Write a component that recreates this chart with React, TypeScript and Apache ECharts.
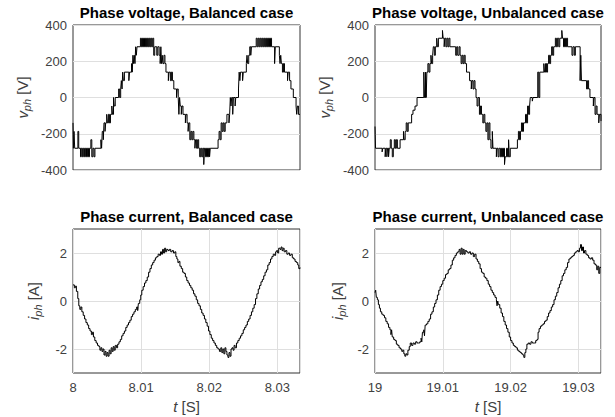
import React, { useEffect, useRef } from 'react';
import * as echarts from 'echarts';

const FONT = '"Liberation Sans", Arial, Helvetica, sans-serif';
const LABEL_COLOR = '#404040';
const GRID_COLOR = '#dfdfdf';
const BOX_COLOR = '#333333';

const titles = [
  'Phase voltage, Balanced case',
  'Phase voltage, Unbalanced case',
  'Phase current, Balanced case',
  'Phase current, Unbalanced case',
];
const tStarts = [8, 19, 8, 19];
const tSpan = 0.03333;
const tInterval = 0.01;
const vMin = -400;
const vMax = 400;
const vInterval = 200;
const iMin = -3;
const iMax = 3;
const iTicks = [-2, 0, 2];

// [time offset in ms, phase voltage in V]
const vBal: [number, number][] = [
  [0, -140], [0.06, -280], [0.15, -187], [0.25, -280], [0.72, -187], [0.84, -280],
  [1.1, -327], [1.22, -280], [1.38, -327], [1.52, -280], [1.68, -327], [1.82, -280], [1.98, -327], [2.12, -280], [2.28, -327], [2.42, -280], [2.62, -233], [2.76, -327], [2.92, -280], [3.08, -327], [3.22, -280],
  [4.1, -233], [4.2, -280], [4.3, -187], [4.45, -233], [4.55, -140], [4.7, -187], [4.8, -140], [4.95, -93], [5.05, -140], [5.2, -93], [5.35, -140], [5.5, -93], [5.7, -47], [5.8, -93], [5.95, 0], [6.05, -47], [6.2, 0], [6.7, 47], [6.85, 0], [7.0, 47], [7.1, 93], [7.2, 47], [7.3, 140], [7.4, 93], [7.55, 140], [8.2, 93], [8.3, 140], [8.6, 187], [8.7, 140], [8.8, 233], [8.9, 187], [9.0, 233], [9.1, 187], [9.2, 280], [9.3, 233], [9.4, 280],
  [9.9, 327], [10.05, 280], [10.2, 327], [10.35, 280], [10.5, 327], [10.65, 280], [10.8, 327], [10.95, 280], [11.1, 327], [11.25, 280], [11.4, 327], [11.55, 280], [11.7, 327], [11.85, 233], [12.0, 280], [12.3, 233], [12.45, 280], [12.65, 233], [12.8, 187], [12.9, 280], [13.0, 187], [13.1, 233], [13.2, 187], [13.35, 233], [13.5, 187], [13.65, 140], [14.0, 93], [14.1, 140], [14.3, 93], [14.45, 140], [14.6, 93], [14.8, 47], [15.2, 0], [15.3, 47], [15.45, 0], [15.55, -93], [15.65, 0], [15.75, -47], [15.9, -93], [16.0, -47], [16.15, -93], [16.5, -140], [16.6, -93], [16.75, -140], [16.9, -187], [17.0, -140], [17.15, -233], [17.3, -187], [17.45, -233], [17.6, -187], [17.75, -233], [17.9, -280], [18.0, -233], [18.15, -280], [18.3, -233],
  [18.45, -280], [18.6, -327], [18.75, -280], [18.9, -327], [19.05, -280], [19.2, -370], [19.3, -280], [19.45, -327], [19.6, -280], [19.75, -327], [19.9, -280], [20.05, -327], [20.15, -280],
  [21.3, -233], [21.45, -187], [21.6, -233], [21.75, -140], [21.9, -187], [22.05, -140], [22.2, -187], [22.35, -140], [22.6, -93], [22.9, -140], [23.0, -93], [23.1, 0], [23.2, -47], [23.3, 0], [23.45, -93], [23.55, 0], [23.8, -47], [23.9, 0], [24.3, 47], [24.4, 140], [24.5, 93], [24.6, 140], [24.9, 93], [25.0, 140], [25.45, 187], [25.55, 233], [25.65, 187], [25.8, 233], [25.95, 280], [26.1, 233], [26.2, 280],
  [26.9, 327], [27.05, 280], [27.2, 327], [27.35, 280], [27.5, 327], [27.65, 280], [27.8, 327], [27.95, 280], [28.1, 327], [28.25, 280], [28.4, 327], [28.55, 280], [28.7, 327], [28.85, 280], [29.0, 327], [29.15, 280], [29.6, 187], [29.7, 280], [30.3, 233], [30.4, 187], [30.5, 233], [30.6, 187], [30.75, 140], [30.9, 187], [31.05, 140], [31.5, 93], [31.6, 140], [31.8, 93], [32.0, 47], [32.35, 0], [32.75, -47], [32.85, -93], [32.95, -47], [33.1, -93], [33.33, -93],
];

const vUnb: [number, number][] = [
  [0, -160], [0.08, -280], [1.05, -300], [1.15, -280], [1.5, -327], [1.6, -280], [1.75, -327], [1.85, -280], [2.0, -327], [2.1, -280], [2.25, -233], [2.4, -280], [2.55, -327], [2.7, -280], [2.85, -233], [3.0, -280], [3.15, -233], [3.3, -280], [3.7, -233], [4.2, -187], [4.3, -233], [4.45, -187], [4.6, -140], [4.75, -187], [4.9, -140], [5.4, -93], [5.6, -70], [5.9, -47], [6.2, 0],
  [7.2, 140], [7.3, 0], [7.45, 140], [7.55, 0], [7.65, 140], [7.8, 187], [7.95, 140], [8.1, 187], [8.25, 233], [8.35, 187], [8.5, 233], [8.6, 280], [8.75, 233], [8.9, 280], [9.1, 327], [9.2, 280], [9.35, 327], [9.95, 370], [10.05, 327], [10.2, 280], [10.3, 327], [10.45, 280], [10.6, 327], [10.75, 280], [10.9, 327], [11.05, 280],
  [11.9, 233], [12.05, 280], [12.2, 233], [12.4, 280], [12.55, 233], [12.7, 187], [12.85, 233], [13.0, 187], [13.15, 233], [13.3, 187], [13.5, 140], [13.95, 93], [14.2, 47], [14.3, 93], [14.45, 47], [14.6, 93], [14.75, 47], [14.9, 0], [15.05, -47], [15.2, 0], [15.4, -93], [15.55, -47], [15.7, -93], [15.9, -140], [16.05, -93], [16.2, -140], [16.35, -187], [16.5, -140], [16.65, -233], [16.8, -140], [16.95, -233], [17.1, -280], [17.3, -187], [17.4, -280],
  [17.9, -327], [18.0, -280], [18.15, -327], [18.3, -280], [18.5, -327], [18.65, -280], [18.8, -327], [18.95, -280], [19.1, -370], [19.2, -327], [19.4, -280], [19.55, -327], [19.7, -233], [19.8, -327], [19.95, -280],
  [21.0, -233], [21.15, -187], [21.3, -233], [21.45, -187], [21.6, -140], [21.75, -187], [21.9, -140], [22.2, -93], [22.35, -140], [22.5, -47], [22.65, -93], [22.8, -47], [22.9, 0], [23.2, -20], [23.3, 0], [24.0, 140], [24.15, 0], [24.3, 140], [24.9, 187], [25.0, 140], [25.15, 187], [25.3, 140], [25.45, 187], [25.6, 233], [25.75, 187], [25.9, 233], [26.05, 280], [26.2, 233], [26.35, 280],
  [26.6, 327], [26.75, 280], [26.9, 327], [27.1, 280], [27.25, 327], [27.55, 370], [27.65, 327], [27.8, 280], [27.95, 327], [28.1, 280], [28.25, 327], [28.4, 280], [29.05, 233], [29.2, 280], [29.4, 233], [29.55, 280], [30.25, 93], [30.35, 233], [30.45, 93], [31.2, 47], [31.35, 93], [31.5, 47], [31.7, 0], [32.2, -47], [32.3, 0], [32.45, -93], [32.6, -47], [32.75, -93], [33.0, -140], [33.1, -93], [33.33, -130],
];

// [time offset in ms, phase current in A]
const iBal: [number, number][] = [
  [0, 0.67], [0.2, 0.55], [0.35, 0.62], [0.5, 0.4], [0.7, 0.1], [0.85, -0.2], [1.0, -0.35], [1.15, -0.25], [1.3, -0.45], [1.5, -0.6], [1.7, -0.75], [1.9, -0.9], [2.1, -1.0], [2.3, -1.15], [2.5, -1.25], [2.7, -1.4], [2.85, -1.3], [3.0, -1.5], [3.2, -1.65], [3.4, -1.75], [3.6, -1.85], [3.8, -1.9], [3.95, -2.05], [4.1, -1.95], [4.25, -2.1], [4.4, -2.0], [4.55, -2.25], [4.7, -2.1], [4.85, -2.3], [5.0, -2.15], [5.15, -2.3], [5.3, -2.05], [5.45, -2.2], [5.6, -1.95], [5.75, -2.1], [5.9, -1.9], [6.05, -2.05], [6.2, -1.85], [6.4, -1.95], [6.55, -1.8], [6.75, -1.7], [6.95, -1.6], [7.15, -1.45], [7.35, -1.35], [7.55, -1.25], [7.75, -1.1], [7.95, -1.0], [8.15, -0.9], [8.35, -0.8], [8.55, -0.65], [8.75, -0.55], [8.95, -0.45], [9.15, -0.35], [9.35, -0.25], [9.5, -0.4], [9.6, -0.1], [9.8, 0.05], [9.95, 0.25], [10.1, 0.45], [10.3, 0.6], [10.5, 0.75], [10.7, 0.85], [10.9, 1.0], [11.1, 1.2], [11.3, 1.35], [11.5, 1.5], [11.7, 1.6], [11.9, 1.7], [12.1, 1.8], [12.3, 1.85], [12.5, 1.95], [12.7, 1.9], [12.85, 2.05], [13.0, 1.95], [13.15, 2.15], [13.3, 2.0], [13.45, 2.2], [13.6, 2.05], [13.75, 2.15], [13.95, 2.1], [14.15, 2.15], [14.35, 2.05], [14.55, 2.1], [14.75, 2.0], [14.95, 2.05], [15.1, 1.85], [15.25, 1.75], [15.4, 1.6], [15.55, 1.65], [15.7, 1.45], [15.9, 1.35], [16.1, 1.2], [16.3, 1.15], [16.5, 1.0], [16.7, 0.85], [16.9, 0.75], [17.1, 0.65], [17.3, 0.55], [17.5, 0.45], [17.7, 0.3], [17.9, 0.2], [18.1, 0.05], [18.3, -0.1], [18.5, -0.2], [18.7, -0.35], [18.9, -0.5], [19.1, -0.6], [19.3, -0.75], [19.5, -0.9], [19.7, -1.05], [19.9, -1.25], [20.1, -1.4], [20.3, -1.55], [20.5, -1.65], [20.7, -1.75], [20.9, -1.85], [21.1, -1.95], [21.3, -2.0], [21.5, -2.1], [21.7, -1.95], [21.85, -2.15], [22.0, -2.0], [22.15, -2.2], [22.3, -1.95], [22.45, -2.1], [22.6, -2.25], [22.75, -2.35], [22.9, -2.15], [23.05, -2.3], [23.2, -2.0], [23.35, -1.95], [23.5, -2.05], [23.65, -1.85], [23.8, -1.95], [24.0, -1.75], [24.2, -1.65], [24.4, -1.55], [24.6, -1.45], [24.8, -1.35], [25.0, -1.2], [25.2, -1.1], [25.4, -1.0], [25.6, -0.85], [25.8, -0.75], [26.0, -0.6], [26.2, -0.45], [26.4, -0.3], [26.6, -0.15], [26.8, 0.1], [27.0, 0.3], [27.2, 0.5], [27.4, 0.65], [27.6, 0.8], [27.8, 0.9], [28.0, 1.05], [28.2, 1.2], [28.4, 1.3], [28.6, 1.5], [28.8, 1.6], [29.0, 1.75], [29.2, 1.85], [29.4, 1.95], [29.6, 1.9], [29.75, 2.05], [29.9, 2.1], [30.05, 2.0], [30.2, 2.2], [30.4, 2.15], [30.55, 2.25], [30.7, 2.1], [30.85, 2.2], [31.0, 2.05], [31.2, 2.1], [31.4, 1.95], [31.6, 2.0], [31.8, 1.9], [32.0, 1.95], [32.2, 1.8], [32.4, 1.75], [32.6, 1.65], [32.8, 1.6], [33.0, 1.5], [33.15, 1.35], [33.33, 1.4],
];

const iUnb: [number, number][] = [
  [0, 0.35], [0.1, 0.45], [0.2, 0.15], [0.35, 0.05], [0.5, -0.15], [0.65, -0.3], [0.8, -0.45], [1.0, -0.55], [1.2, -0.6], [1.4, -0.7], [1.6, -0.85], [1.8, -0.95], [2.0, -1.1], [2.2, -1.2], [2.35, -1.4], [2.45, -1.2], [2.55, -1.5], [2.75, -1.6], [2.95, -1.65], [3.15, -1.8], [3.35, -1.85], [3.55, -1.95], [3.75, -2.0], [3.95, -2.1], [4.1, -2.05], [4.25, -2.2], [4.4, -2.3], [4.55, -2.2], [4.7, -2.25], [4.85, -2.05], [5.05, -1.9], [5.2, -1.75], [5.4, -1.85], [5.6, -1.75], [5.8, -1.8], [6.0, -1.7], [6.2, -1.75], [6.4, -1.75], [6.6, -1.7], [6.8, -1.55], [6.9, -1.7], [7.0, -1.3], [7.2, -1.2], [7.3, -1.45], [7.4, -1.0], [7.6, -0.95], [7.8, -0.85], [8.0, -0.75], [8.2, -0.55], [8.4, -0.45], [8.6, -0.25], [8.8, -0.1], [9.0, 0.05], [9.2, 0.25], [9.4, 0.45], [9.6, 0.6], [9.8, 0.7], [10.0, 0.85], [10.2, 0.95], [10.4, 1.1], [10.6, 1.15], [10.8, 1.3], [11.0, 1.35], [11.2, 1.5], [11.4, 1.7], [11.6, 1.8], [11.8, 1.9], [12.0, 2.0], [12.2, 2.05], [12.4, 2.15], [12.55, 1.95], [12.7, 2.2], [12.85, 1.95], [13.0, 2.15], [13.15, 1.95], [13.3, 2.1], [13.5, 2.05], [13.7, 2.0], [13.9, 2.05], [14.1, 1.95], [14.3, 2.0], [14.5, 1.85], [14.7, 1.95], [14.9, 1.75], [15.1, 1.65], [15.3, 1.55], [15.5, 1.35], [15.7, 1.2], [15.9, 1.15], [16.1, 1.0], [16.3, 0.95], [16.5, 0.85], [16.7, 0.7], [16.9, 0.6], [17.1, 0.45], [17.3, 0.35], [17.5, 0.25], [17.7, 0.15], [17.9, 0.05], [18.0, -0.2], [18.1, 0.0], [18.2, -0.15], [18.4, -0.3], [18.6, -0.5], [18.8, -0.65], [19.0, -0.85], [19.2, -1.0], [19.4, -1.15], [19.6, -1.3], [19.8, -1.5], [20.0, -1.65], [20.2, -1.75], [20.4, -1.85], [20.6, -1.9], [20.8, -1.95], [21.0, -2.05], [21.2, -2.1], [21.4, -2.15], [21.6, -2.2], [21.8, -2.25], [21.95, -2.35], [22.1, -2.15], [22.25, -2.0], [22.4, -1.8], [22.6, -1.75], [22.8, -1.8], [23.0, -1.7], [23.2, -1.75], [23.5, -1.75], [23.7, -1.65], [23.9, -1.6], [24.05, -1.3], [24.2, -1.15], [24.4, -1.05], [24.6, -1.0], [24.8, -0.95], [25.0, -0.85], [25.2, -0.8], [25.4, -0.65], [25.6, -0.5], [25.8, -0.4], [26.0, -0.25], [26.2, -0.15], [26.4, 0.05], [26.6, 0.2], [26.8, 0.35], [27.0, 0.55], [27.2, 0.7], [27.4, 0.85], [27.6, 1.05], [27.8, 1.15], [28.0, 1.3], [28.2, 1.4], [28.4, 1.6], [28.6, 1.75], [28.8, 1.8], [29.0, 1.85], [29.2, 1.9], [29.4, 2.0], [29.6, 2.05], [29.8, 2.1], [30.0, 2.05], [30.15, 2.2], [30.3, 2.35], [30.45, 2.1], [30.6, 2.25], [30.75, 2.0], [30.9, 2.1], [31.1, 1.95], [31.3, 1.9], [31.5, 1.8], [31.7, 1.75], [31.9, 1.8], [32.1, 1.7], [32.3, 1.55], [32.5, 1.5], [32.7, 1.3], [32.85, 1.45], [33.0, 1.15], [33.15, 1.4], [33.33, 1.4],
];

const seriesData = [vBal, vUnb, iBal, iUnb];

const gridRects = [
  { left: 73, top: 25, width: 227, height: 145 },
  { left: 375, top: 25, width: 226, height: 145 },
  { left: 73, top: 229, width: 227, height: 144 },
  { left: 375, top: 229, width: 226, height: 144 },
];
const titleCenters = [
  { x: 186.5, y: 5 },
  { x: 488, y: 5 },
  { x: 186.5, y: 209 },
  { x: 488, y: 209 },
];
const yNameGaps = [41, 41, 30, 28];

const richName = {
  i: { fontStyle: 'italic', fontSize: 15, fontFamily: FONT, color: LABEL_COLOR },
  s: { fontStyle: 'italic', fontSize: 11, fontFamily: FONT, color: LABEL_COLOR, padding: [9, 0, 0, 0] },
  u: { fontSize: 15, fontFamily: FONT, color: LABEL_COLOR },
};

const tickLabel = { color: LABEL_COLOR, fontSize: 13, fontFamily: FONT };

function buildOption() {
  const grid = gridRects.map((g) => ({
    ...g,
    show: true,
    borderColor: BOX_COLOR,
    borderWidth: 1,
    backgroundColor: '#ffffff',
    containLabel: false,
    outerBoundsMode: 'none',
  }));

  const xAxis = gridRects.map((_, k) => {
    const isBottom = k >= 2;
    return {
      type: 'value',
      gridIndex: k,
      min: tStarts[k],
      max: tStarts[k] + tSpan,
      interval: tInterval,
      axisLine: { show: false },
      axisTick: { show: false },
      axisLabel: { show: isBottom, ...tickLabel, margin: 8, showMaxLabel: false },
      splitLine: { show: isBottom, lineStyle: { color: GRID_COLOR, width: 1 } },
      name: isBottom ? '{i|t}{u| [S]}' : '',
      nameLocation: 'middle',
      nameGap: 26,
      nameTextStyle: { rich: richName },
    };
  });

  const yAxis = gridRects.map((_, k) => {
    const isVoltage = k < 2;
    const base: any = {
      type: 'value',
      gridIndex: k,
      axisLine: { show: false },
      axisLabel: { ...tickLabel, margin: 6 },
      splitLine: { show: true, lineStyle: { color: GRID_COLOR, width: 1 } },
      name: isVoltage ? '{i|v}{s|ph}{u| [V]}' : '{i|i}{s|ph}{u| [A]}',
      nameLocation: 'middle',
      nameRotate: 90,
      nameGap: yNameGaps[k],
      nameTextStyle: { rich: richName },
    };
    if (isVoltage) {
      base.min = vMin;
      base.max = vMax;
      base.interval = vInterval;
      base.axisTick = { show: false };
    } else {
      base.min = iMin;
      base.max = iMax;
      base.axisTick = { show: false, customValues: iTicks };
      base.axisLabel = { ...base.axisLabel, customValues: iTicks };
    }
    return base;
  });

  const series = seriesData.map((pts, k) => ({
    type: 'line',
    xAxisIndex: k,
    yAxisIndex: k,
    step: 'end',
    showSymbol: false,
    symbol: 'none',
    lineStyle: { color: '#000000', width: 1 },
    data: pts.map(([ms, y]) => [tStarts[k] + ms / 1000, y]),
  }));

  const title = titles.map((text, k) => ({
    text,
    left: titleCenters[k].x,
    top: titleCenters[k].y,
    textAlign: 'center',
    padding: 0,
    textStyle: { fontFamily: FONT, fontSize: 15, fontWeight: 'bold', color: '#000000' },
  }));

  return { animation: false, backgroundColor: '#ffffff', title, grid, xAxis, yAxis, series };
}

export default function App() {
  const ref = useRef<HTMLDivElement>(null);
  useEffect(() => {
    document.body.style.margin = '0';
    const chart = echarts.init(ref.current as HTMLDivElement, null, { renderer: 'svg' });
    chart.setOption(buildOption() as any);
    return () => {
      chart.dispose();
    };
  }, []);
  return <div ref={ref} style={{ width: 615, height: 417 }} />;
}
